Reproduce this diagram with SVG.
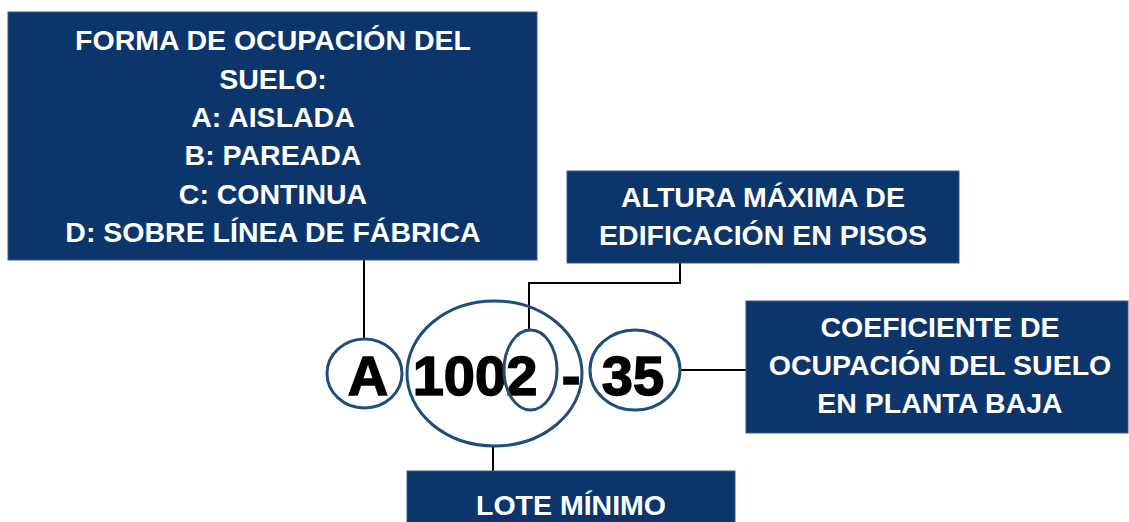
<svg xmlns="http://www.w3.org/2000/svg" width="1129" height="522" viewBox="0 0 1129 522">
<style>
.box{fill:#0B356B;stroke:#3A5A85;stroke-width:1}
.lbl{font-family:"Liberation Sans",Arial,sans-serif;font-weight:bold;font-size:28.5px;fill:#ffffff;text-anchor:middle}
.big{font-family:"Liberation Sans",Arial,sans-serif;font-weight:bold;font-size:56px;fill:#000000;stroke:#000000;stroke-width:1.5;text-anchor:middle}
.ring{fill:none;stroke:#1F4E79;stroke-width:3}
.conn{fill:none;stroke:#000000;stroke-width:2}
</style>
<rect width="1129" height="522" fill="#ffffff"/>
<g id="connectors">
<path class="conn" d="M364,260 V339"/>
<path class="conn" d="M680,263 V283 H529 V330"/>
<path class="conn" d="M680,370 H746"/>
<path class="conn" d="M493,446 V471"/>
</g>
<g id="code">
<text class="big" x="368" y="395">A</text>
<text class="big" x="475" y="395">1002</text>
<text class="big" x="571" y="395">-</text>
<text class="big" x="633" y="395">35</text>
<ellipse class="ring" cx="364.5" cy="373.5" rx="37.5" ry="34.5"/>
<ellipse class="ring" cx="494.5" cy="373.5" rx="87.5" ry="72.5"/>
<ellipse class="ring" cx="530.5" cy="370" rx="26.5" ry="40"/>
<ellipse class="ring" cx="635" cy="370" rx="45" ry="40"/>
</g>
<g id="forma">
<rect class="box" x="8" y="12" width="529" height="248"/>
<text class="lbl" x="273" y="50">FORMA DE OCUPACIÓN DEL</text>
<text class="lbl" x="273" y="89">SUELO:</text>
<text class="lbl" x="273" y="127">A: AISLADA</text>
<text class="lbl" x="273" y="165">B: PAREADA</text>
<text class="lbl" x="273" y="204">C: CONTINUA</text>
<text class="lbl" x="273" y="242">D: SOBRE LÍNEA DE FÁBRICA</text>
</g>
<g id="altura">
<rect class="box" x="567" y="171" width="392" height="92"/>
<text class="lbl" x="763" y="207">ALTURA MÁXIMA DE</text>
<text class="lbl" x="763" y="245">EDIFICACIÓN EN PISOS</text>
</g>
<g id="coeficiente">
<rect class="box" x="746" y="301" width="382" height="132"/>
<text class="lbl" x="940" y="337">COEFICIENTE DE</text>
<text class="lbl" x="940" y="375">OCUPACIÓN DEL SUELO</text>
<text class="lbl" x="940" y="413">EN PLANTA BAJA</text>
</g>
<g id="lote">
<rect class="box" x="407" y="471" width="328" height="56"/>
<text class="lbl" x="571" y="515">LOTE MÍNIMO</text>
</g>
</svg>
